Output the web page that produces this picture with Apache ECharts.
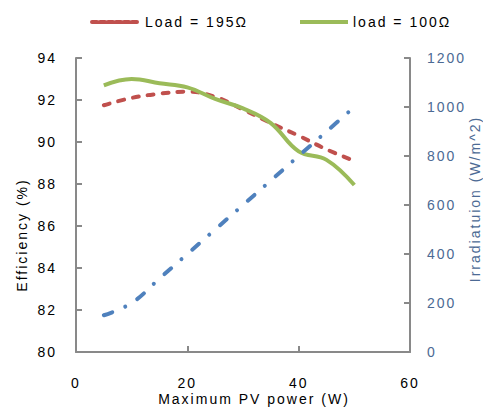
<!DOCTYPE html>
<html>
<head>
<meta charset="utf-8">
<script src="https://cdn.jsdelivr.net/npm/echarts@6/dist/echarts.min.js"></script>
<style>
html,body{margin:0;padding:0;background:#fff;}
#chart{width:483px;height:409px;}
#chart text{letter-spacing:2px;}
</style>
</head>
<body>
<div id="chart"></div>
<script>
var powerW = [5, 10, 15, 20, 25, 30, 35, 40, 45, 50];
var load195 = [91.75, 92.1, 92.3, 92.4, 92.15, 91.55, 90.9, 90.3, 89.65, 89.1];
var load100 = [92.7, 93.0, 92.8, 92.6, 92.05, 91.6, 90.9, 89.55, 89.15, 87.95];
var irradiance = [150, 200, 300, 400, 500, 600, 700, 800, 900, 1000];
var xTicks = [0, 20, 40, 60];
var leftTicks = [80, 82, 84, 86, 88, 90, 92, 94];
var rightTicks = [0, 200, 400, 600, 800, 1000, 1200];

function pairs(xs, ys){ return xs.map(function(x,i){ return [x, ys[i]]; }); }

var FONT = 'Liberation Sans, Arial, sans-serif';
var axisGrey = '#898989';
var chart = echarts.init(document.getElementById('chart'), null, {renderer:'svg'});
chart.setOption({
  animation:false,
  backgroundColor:'#fff',
  textStyle:{fontFamily:FONT},
  grid:{left:76, right:73, top:58, bottom:57},
  legend:[
    {left:85, top:10, itemWidth:48, itemHeight:14, itemGap:10,
     itemStyle:{opacity:0}, lineStyle:{width:4, type:[5,3]},
     data:['Load = 195Ω'], textStyle:{fontSize:14, color:'#000', fontFamily:FONT}},
    {left:293, top:10, itemWidth:48, itemHeight:14,
     itemStyle:{opacity:0}, lineStyle:{width:4},
     data:['load = 100Ω'], textStyle:{fontSize:14, color:'#000', fontFamily:FONT}}
  ],
  xAxis:{type:'value', min:xTicks[0], max:xTicks[xTicks.length-1], interval:20,
    axisLine:{lineStyle:{color:axisGrey, width:2}},
    axisTick:{inside:true, length:6, lineStyle:{color:axisGrey, width:2}},
    axisLabel:{margin:24, fontSize:14, color:'#000', fontFamily:FONT},
    splitLine:{show:false}},
  yAxis:[
    {type:'value', min:leftTicks[0], max:leftTicks[leftTicks.length-1], interval:2,
     axisLine:{show:true, lineStyle:{color:axisGrey, width:2}},
     axisTick:{show:true, inside:true, length:6, lineStyle:{color:axisGrey, width:2}},
     axisLabel:{margin:19, fontSize:14, color:'#000', fontFamily:FONT},
     splitLine:{show:false}},
    {type:'value', position:'right', min:rightTicks[0], max:rightTicks[rightTicks.length-1], interval:200,
     axisLine:{show:true, lineStyle:{color:axisGrey, width:2}},
     axisTick:{show:true, inside:true, length:6, lineStyle:{color:axisGrey, width:2}},
     axisLabel:{margin:17, fontSize:14, color:'#4C6A94', fontFamily:FONT,
       formatter:function(v){ return String(v); }},
     splitLine:{show:false}}
  ],
  graphic:[
    {type:'text', x:22, y:235, rotation:Math.PI/2,
     style:{text:'Efficiency (%)', fill:'#000', font:'14px ' + FONT, textAlign:'center', textVerticalAlign:'middle'}},
    {type:'text', x:475, y:199, rotation:Math.PI/2,
     style:{text:'Irradiatuion (W/m^2)', fill:'#4C6A94', font:'14px ' + FONT, textAlign:'center', textVerticalAlign:'middle'}},
    {type:'text', x:254, y:399,
     style:{text:'Maximum PV power (W)', fill:'#000', font:'14px ' + FONT, textAlign:'center', textVerticalAlign:'middle'}}
  ],
  series:[
    {name:'Load = 195Ω', type:'line', yAxisIndex:0, smooth:0.4, symbol:'none',
     data:pairs(powerW, load195),
     itemStyle:{color:'#C0504D'},
     lineStyle:{color:'#C0504D', width:4, type:[6,9], cap:'round'}},
    {name:'load = 100Ω', type:'line', yAxisIndex:0, smooth:0.4, symbol:'none',
     data:pairs(powerW, load100),
     itemStyle:{color:'#9BBB59'},
     lineStyle:{color:'#9BBB59', width:4}},
    {name:'Irradiance', type:'line', yAxisIndex:1, smooth:0.4, symbol:'none',
     data:pairs(powerW, irradiance),
     itemStyle:{color:'#4F81BD'},
     lineStyle:{color:'#4F81BD', width:4, type:[9,14,0.01,14], cap:'round'}}
  ]
});
</script>
</body>
</html>
